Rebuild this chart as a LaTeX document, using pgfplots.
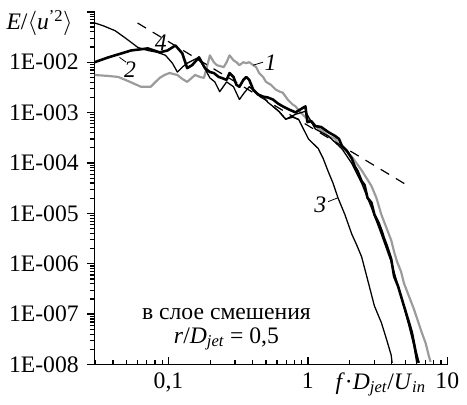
\documentclass[border=0pt]{standalone}
\usepackage{fontspec}
\setmainfont{Liberation Serif}
\usepackage{pgfplots}
\pgfplotsset{compat=1.18}
\definecolor{lgray}{RGB}{155,155,155}
\begin{document}
\fontsize{24}{28}\selectfont
\begin{tikzpicture}
\begin{axis}[
  width=358pt, height=358pt, scale only axis,
  xmode=log, ymode=log,
  xmin=0.0295, xmax=10, ymin=1e-8, ymax=0.1,
  axis lines=left, axis line style={-, line width=1.6pt},
  xtick={0.1,1,10}, xticklabels={{0,1},1,10},
  minor xtick={0.03,0.04,0.05,0.06,0.07,0.08,0.09,0.2,0.3,0.4,0.5,0.6,0.7,0.8,0.9,2,3,4,5,6,7,8,9},
  ytick={1e-8,1e-7,1e-6,1e-5,1e-4,1e-3,1e-2,1e-1},
  yticklabels={1E-008,1E-007,1E-006,1E-005,1E-004,1E-003,1E-002,{}},
  minor ytick={2e-8,3e-8,4e-8,5e-8,6e-8,7e-8,8e-8,9e-8,
    2e-7,3e-7,4e-7,5e-7,6e-7,7e-7,8e-7,9e-7,
    2e-6,3e-6,4e-6,5e-6,6e-6,7e-6,8e-6,9e-6,
    2e-5,3e-5,4e-5,5e-5,6e-5,7e-5,8e-5,9e-5,
    2e-4,3e-4,4e-4,5e-4,6e-4,7e-4,8e-4,9e-4,
    2e-3,3e-3,4e-3,5e-3,6e-3,7e-3,8e-3,9e-3,
    2e-2,3e-2,4e-2,5e-2,6e-2,7e-2,8e-2,9e-2},
  xtick align=inside, ytick align=outside,
  major tick length=8pt, minor tick length=5pt,
  major tick style={black, line width=1.4pt},
  minor tick style={black, line width=1.2pt},
  ticklabel style={font=\fontsize{24}{28}\selectfont},
  clip=false,
  every axis plot/.append style={line join=round},
]
\coordinate (O) at (rel axis cs:0,0);
% curve 1 (gray)
\addplot[lgray, line width=2.2pt] coordinates {
(0.0295,0.00558)(0.0371,0.00534)(0.0436,0.00510)(0.0530,0.00407)(0.0634,0.00326)(0.0746,0.00326)
(0.0864,0.00488)(0.0937,0.00558)(0.1016,0.00610)(0.1158,0.00558)(0.1256,0.00466)(0.1362,0.00407)
(0.1551,0.00558)(0.1683,0.00510)(0.1796,0.00488)(0.1886,0.00799)(0.1981,0.0137)(0.2114,0.0100)
(0.2220,0.00874)(0.2488,0.00799)(0.2612,0.0100)(0.2743,0.0137)(0.2927,0.0109)(0.3073,0.0100)
(0.3228,0.00874)(0.3444,0.0100)(0.3616,0.00956)(0.3797,0.0100)(0.4054,0.00874)(0.4256,0.00799)
(0.4469,0.00610)(0.4769,0.00510)(0.5008,0.00407)(0.5433,0.00356)(0.5893,0.00285)(0.6290,0.00260)
(0.6604,0.00249)(0.7162,0.00182)(0.7769,0.00145)(0.8160,0.00133)(0.8851,0.00101)(0.9601,0.000810)
(1.041,0.000677)(1.130,0.000541)(1.266,0.000432)(1.396,0.000345)(1.564,0.000302)(1.753,0.000193)
(1.902,0.000168)(2.064,0.000134)(2.238,9.82e-5)(2.428,7.17e-5)(2.634,5.01e-5)(2.857,3.50e-5)
(3.099,2.04e-5)(3.362,9.52e-6)(3.646,5.31e-6)(3.956,2.96e-6)(4.153,1.73e-6)(4.361,1.10e-6)
(4.654,7.05e-7)(4.887,4.11e-7)(5.302,2.29e-7)(5.751,1.28e-7)(6.138,7.47e-8)(6.550,4.36e-8)
(6.992,2.66e-8)(7.341,1.55e-8)(7.585,1.13e-8)};
% curve 2 (thick black)
\addplot[black, line width=2.6pt] coordinates {
(0.0295,0.0100)(0.0371,0.0125)(0.0436,0.0143)(0.0539,0.0171)(0.0711,0.0188)(0.0864,0.0157)
(0.0984,0.0171)(0.1121,0.0215)(0.1256,0.0150)(0.1362,0.00764)(0.1478,0.00874)(0.1656,0.0125)
(0.1826,0.00764)(0.1981,0.00638)(0.2114,0.00610)(0.2293,0.00510)(0.2408,0.00488)(0.2612,0.00446)
(0.2743,0.00610)(0.2927,0.00510)(0.3073,0.00356)(0.3228,0.00326)(0.3444,0.00446)(0.3616,0.00510)
(0.3797,0.00446)(0.4054,0.00285)(0.4397,0.00227)(0.4769,0.00208)(0.5174,0.00199)(0.5613,0.00182)
(0.6089,0.00152)(0.6604,0.00133)(0.7280,0.00116)(0.8160,0.00101)(0.8851,0.00116)(0.9601,0.00133)
(0.9919,0.000647)(1.059,0.000677)(1.130,0.000541)(1.246,0.000517)(1.396,0.000413)(1.564,0.000345)
(1.670,0.000302)(1.753,0.000220)(1.902,0.000176)(2.064,0.000123)(2.167,8.59e-5)(2.275,6.86e-5)
(2.428,4.38e-5)(2.550,3.66e-5)(2.677,2.04e-5)(2.857,1.63e-5)(2.999,9.52e-6)(3.202,6.65e-6)
(3.362,4.64e-6)(3.529,3.10e-6)(3.706,2.16e-6)(3.956,1.26e-6)(4.153,5.63e-7)(4.432,3.59e-7)
(4.654,2.29e-7)(4.887,1.46e-7)(5.131,9.35e-8)(5.388,5.97e-8)(5.566,4.36e-8)(5.751,2.78e-8)
(5.941,1.78e-8)(6.138,1.24e-8)(6.238,1.08e-8)};
% curve 4 (thin black)
\addplot[black, line width=1.3pt] coordinates {
(0.0295,0.0602)(0.0342,0.0526)(0.0415,0.0421)(0.0497,0.0294)(0.0604,0.0196)(0.0711,0.0171)
(0.0836,0.0157)(0.0952,0.0137)(0.1067,0.00956)(0.1158,0.00638)(0.1256,0.00799)(0.1362,0.00956)
(0.1603,0.0120)(0.1739,0.00956)(0.1981,0.00488)(0.2149,0.00407)(0.2331,0.00260)(0.2612,0.00407)
(0.2927,0.00326)(0.3228,0.00182)(0.3501,0.00249)(0.3797,0.00326)(0.4256,0.00249)(0.4769,0.00208)
(0.5174,0.00159)(0.5613,0.00133)(0.6188,0.00106)(0.6934,0.000740)(0.816,0.000927)(0.960,0.00106)
(1.130,0.000473)(1.396,0.000345)(1.753,0.000193)(2.064,9.82e-5)(2.428,4.00e-5)(2.857,1.30e-5)
(3.362,3.88e-6)(3.956,1.10e-6)(4.654,2.29e-7)(5.302,5.97e-8)(5.751,2.43e-8)(6.04,1.08e-8)};
% curve 3 (thin black, steep)
\addplot[black, line width=1.3pt] coordinates {
(0.5613,0.00133)(0.6188,0.00106)(0.6934,0.000740)(0.7769,0.000810)(0.8568,0.000740)(0.9294,0.000473)
(1.008,0.000302)(1.094,0.000241)(1.187,0.000193)(1.287,0.000123)(1.396,6.86e-5)(1.514,4.00e-5)
(1.643,2.04e-5)(1.841,9.52e-6)(2.064,3.88e-6)(2.238,2.37e-6)(2.428,1.38e-6)(2.677,4.92e-7)
(2.999,1.46e-7)(3.362,6.83e-8)(3.646,3.33e-8)(3.956,1.55e-8)(4.021,1.08e-8)};
% -5/3 slope
\addplot[black, line width=1.2pt, dash pattern=on 10pt off 8pt] coordinates {(0.06,0.06)(5.0,3.8e-5)};
% labels
\draw[line width=0.8pt] (axis cs:0.405,0.00874) -- (axis cs:0.477,0.0100);
\node[font=\itshape] at (axis cs:0.54,0.0100) {1};
\draw[line width=0.8pt] (axis cs:0.0445,0.0125) -- (axis cs:0.0497,0.0100);
\node[font=\itshape] at (axis cs:0.0530,0.0072) {2};
\draw[line width=0.8pt] (axis cs:1.396,1.71e-5) -- (axis cs:1.643,2.04e-5);
\node[font=\itshape] at (axis cs:1.226,1.45e-5) {3};
\node[font=\itshape] at (axis cs:0.0879,0.0245) {4};
\node[align=center] at (rel axis cs:0.374,0.10) {в слое смешения\\[-4pt] \textit{r}/\textit{D}\textsubscript{\textit{jet}} = 0,5};
\node[anchor=north, inner sep=0.333em] at (rel axis cs:0.811,0) {\textit{f}·\textit{D}\textsubscript{\textit{jet}}/\textit{U}\textsubscript{\textit{in}}};
\node[anchor=north east, inner sep=0pt] at (rel axis cs:0,1) [xshift=-22pt, yshift=2pt] {\textit{E}/$\langle$\textit{u}\textsuperscript{'2}$\rangle$};
\end{axis}
\path (O) ++(-96pt,-35pt) rectangle ++(467pt,405pt);
\end{tikzpicture}
\end{document}
